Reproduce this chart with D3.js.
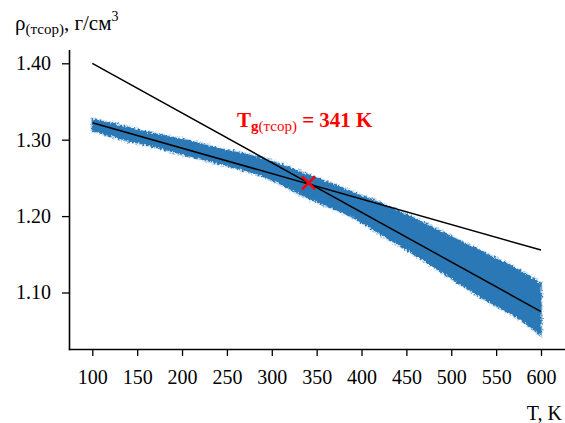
<!DOCTYPE html>
<html>
<head>
<meta charset="utf-8">
<script src="https://cdn.jsdelivr.net/npm/d3@7"></script>
<style>
  html, body { margin: 0; padding: 0; background: #fff; }
  svg text { font-family: "Liberation Serif", "Times New Roman", serif; }
</style>
</head>
<body>
<svg id="chart" width="565" height="423"></svg>
<script>
// ---- data ----
const xTicks = [100, 150, 200, 250, 300, 350, 400, 450, 500, 550, 600];
const yTicks = [1.10, 1.20, 1.30, 1.40];

// simulated density cloud: temperature and upper / lower edge of the point band
const bandT     = [100, 129, 166, 203, 240, 296, 341, 389, 426, 463, 500, 538, 575, 600];
const bandUpper = [1.3267, 1.3192, 1.3084, 1.2996, 1.2887, 1.2734, 1.2538, 1.2320, 1.2145, 1.1949, 1.1730, 1.1513, 1.1295, 1.1120];
const bandLower = [1.3127, 1.3018, 1.2917, 1.2800, 1.2691, 1.2495, 1.2233, 1.1992, 1.1730, 1.1469, 1.1186, 1.0902, 1.0662, 1.0440];

// linear fits (glass / melt)
const fitGlassT = [100, 600];
const fitGlassRho = [1.3223, 1.1556];
const fitMeltT = [100, 600];
const fitMeltRho = [1.400, 1.075];

// glass transition point
const tgT = [341];
const tgRho = [1.2435];
const tgLabel = "341 K";

// ---- chart ----
const svg = d3.select("#chart");
const x = d3.scaleLinear().domain([100, 600]).range([92.3, 541]);
const y = d3.scaleLinear().domain([1.10, 1.40]).range([292.5, 63.3]);

const defs = svg.append("defs");
const f = defs.append("filter").attr("id", "rough")
  .attr("x", "-5%").attr("y", "-20%").attr("width", "110%").attr("height", "140%");
f.append("feTurbulence").attr("type", "fractalNoise").attr("baseFrequency", 0.45)
  .attr("numOctaves", 2).attr("seed", 3).attr("result", "noise");
f.append("feDisplacementMap").attr("in", "SourceGraphic").attr("in2", "noise")
  .attr("scale", 5).attr("xChannelSelector", "R").attr("yChannelSelector", "G");

const band = bandT.map((t, i) => ({ t, hi: bandUpper[i], lo: bandLower[i] }));
const area = d3.area()
  .x(d => x(d.t)).y0(d => y(d.lo)).y1(d => y(d.hi))
  .curve(d3.curveMonotoneX);

// halo of sparse points
svg.append("path").datum(band).attr("d", area)
  .attr("fill", "#7fb0d8").attr("stroke", "#8dbadd").attr("stroke-width", 3.5)
  .attr("opacity", 0.55).attr("filter", "url(#rough)");
// dense core
svg.append("path").datum(band).attr("d", area)
  .attr("fill", "#2a79b6").attr("stroke", "#2a79b6").attr("stroke-width", 1)
  .attr("filter", "url(#rough)");

// fit lines
const line = d3.line().x(d => x(d[0])).y(d => y(d[1]));
svg.append("path").datum(fitGlassT.map((t, i) => [t, fitGlassRho[i]]))
  .attr("d", line).attr("fill", "none").attr("stroke", "#000").attr("stroke-width", 1.5);
svg.append("path").datum(fitMeltT.map((t, i) => [t, fitMeltRho[i]]))
  .attr("d", line).attr("fill", "none").attr("stroke", "#000").attr("stroke-width", 1.5);

// Tg marker
const s = 6.5;
tgT.forEach((t, i) => {
  const cx = x(t), cy = y(tgRho[i]);
  svg.append("path")
    .attr("d", `M${cx - s},${cy - s}L${cx + s},${cy + s}M${cx - s},${cy + s}L${cx + s},${cy - s}`)
    .attr("stroke", "#ff0000").attr("stroke-width", 2.5).attr("fill", "none");
});

// Tg annotation
const ann = svg.append("text").attr("x", 237).attr("y", 127)
  .attr("fill", "#ff0000").attr("font-weight", "bold").attr("font-size", 21);
ann.append("tspan").text("T");
ann.append("tspan").attr("font-size", 15).attr("dy", 4).text("g");
ann.append("tspan").attr("font-size", 15).attr("font-weight", "normal").text("(тсор)");
ann.append("tspan").attr("dy", -4).text(" = " + tgLabel);

// axes
const spineX = 69.5, spineY = 349.5;
const xAxis = d3.axisBottom(x).tickValues(xTicks).tickSize(6.5).tickSizeOuter(0).tickPadding(13.8);
const gx = svg.append("g").attr("transform", `translate(0,${spineY})`).call(xAxis);
gx.select(".domain").remove();
gx.selectAll("text").attr("font-size", 20).attr("fill", "#000")
  .style("font-family", '"Liberation Serif", "Times New Roman", serif');
gx.selectAll("line").attr("stroke", "#000").attr("stroke-width", 1.3);

const yAxis = d3.axisLeft(y).tickValues(yTicks).tickFormat(d3.format(".2f"))
  .tickSize(7.5).tickSizeOuter(0).tickPadding(11);
const gy = svg.append("g").attr("transform", `translate(${spineX},0)`).call(yAxis);
gy.select(".domain").remove();
gy.selectAll("text").attr("font-size", 20).attr("fill", "#000")
  .style("font-family", '"Liberation Serif", "Times New Roman", serif');
gy.selectAll("line").attr("stroke", "#000").attr("stroke-width", 1.3);

// spines
svg.append("line").attr("x1", spineX).attr("x2", spineX).attr("y1", 50).attr("y2", spineY + 0.7)
  .attr("stroke", "#000").attr("stroke-width", 1.6);
svg.append("line").attr("x1", spineX - 0.7).attr("x2", 565).attr("y1", spineY).attr("y2", spineY)
  .attr("stroke", "#000").attr("stroke-width", 1.6);

// axis titles
const yl = svg.append("text").attr("x", 15).attr("y", 29.5).attr("font-size", 21).attr("fill", "#000");
yl.append("tspan").text("ρ");
yl.append("tspan").attr("font-size", 15).attr("dy", 4).text("(тсор)");
yl.append("tspan").attr("dy", -4).text(", г/см");
yl.append("tspan").attr("font-size", 14).attr("dy", -9).text("3");

svg.append("text").attr("x", 562).attr("y", 420).attr("text-anchor", "end")
  .attr("font-size", 20).attr("fill", "#000").text("T, K");
</script>
</body>
</html>
